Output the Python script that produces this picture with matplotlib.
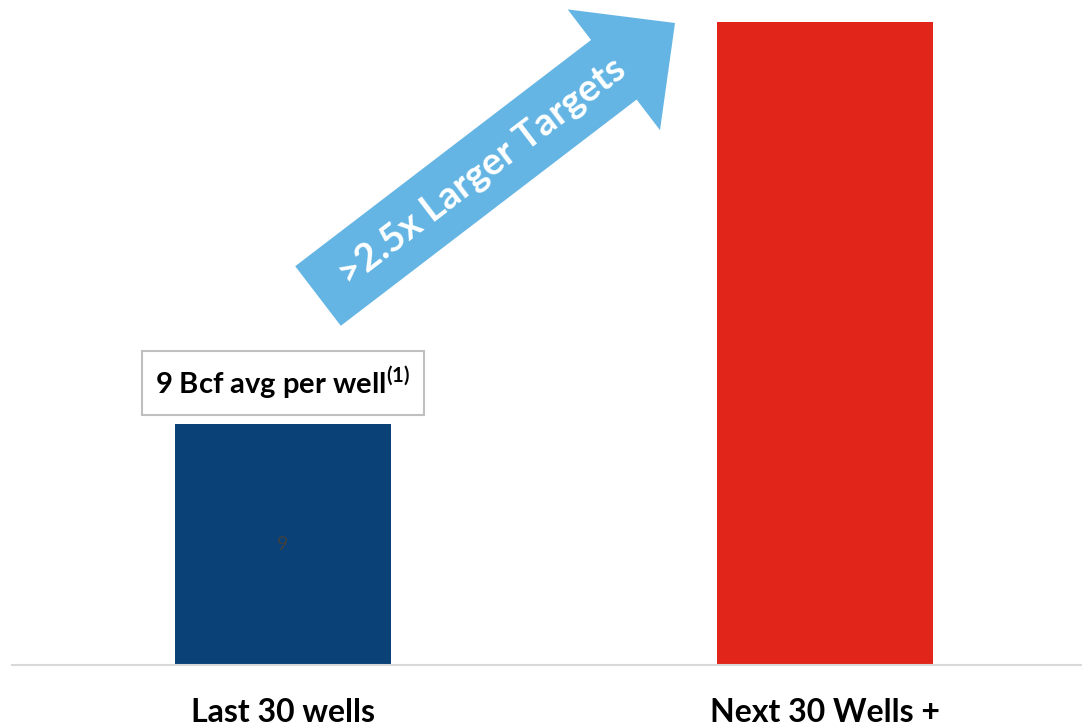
import numpy as np
import matplotlib.pyplot as plt
from matplotlib.patches import FancyArrow
from matplotlib.transforms import IdentityTransform

plt.rcParams['font.family'] = ['Lato', 'DejaVu Sans']
plt.rcParams['mathtext.fontset'] = 'custom'
plt.rcParams['mathtext.bf'] = 'Lato:bold'
plt.rcParams['mathtext.rm'] = 'Lato'

categories = ['Last 30 wells', 'Next 30 Wells +']
bcf_per_well = [9, 24]
bar_colors = ['#0A4176', '#E1251B']

DPI = 100
fig = plt.figure(figsize=(10.82, 7.27), dpi=DPI)
# plot area: bottom axis line sits ~62px above the lower edge
ax = fig.add_axes([12 / 1082, 62 / 727, 1070 / 1082, 665 / 727])

x = np.arange(len(categories))
bars = ax.bar(x, bcf_per_well, width=0.3985, color=bar_colors)

# only the first bar carries its value inside
ax.bar_label(bars, labels=[str(bcf_per_well[0]), ''], label_type='center',
             color='#404040', fontsize=14)

ax.set_xlim(-0.5, 1.474)
ax.set_ylim(0, 24.82)
ax.set_xticks(x, categories, fontsize=23, fontweight='bold')
ax.tick_params(axis='x', length=0, pad=24)
ax.set_yticks([])
for side in ['left', 'right', 'top']:
    ax.spines[side].set_visible(False)
ax.spines['bottom'].set_color('#D9D9D9')
ax.spines['bottom'].set_linewidth(1.5)

# callout above the first bar
ax.text(0, bcf_per_well[0] + 1.52, r'9 Bcf avg per well$^{\mathbf{(1)}}$',
        ha='center', va='center', fontsize=21, fontweight='bold',
        color='black',
        bbox=dict(boxstyle='square,pad=0.46', facecolor='white',
                  edgecolor='#BFBFBF', linewidth=1.5))

# block arrow between the bars, drawn in pixel space
H = 727
tail = (318, H - 296)
tip = (675, H - 23)
arrow = FancyArrow(tail[0], tail[1], tip[0] - tail[0], tip[1] - tail[1],
                   width=75, head_width=152, head_length=77,
                   length_includes_head=True, color='#64B5E4', lw=0,
                   transform=IdentityTransform())
fig.add_artist(arrow)
angle = np.degrees(np.arctan2(tip[1] - tail[1], tip[0] - tail[0]))
fig.text(482 / 1082, (H - 172) / H, '>2.5x Larger Targets', color='white',
         fontsize=27.5, fontweight='bold', rotation=angle,
         rotation_mode='anchor', ha='center', va='center')

fig.savefig('out.png', dpi=DPI)
